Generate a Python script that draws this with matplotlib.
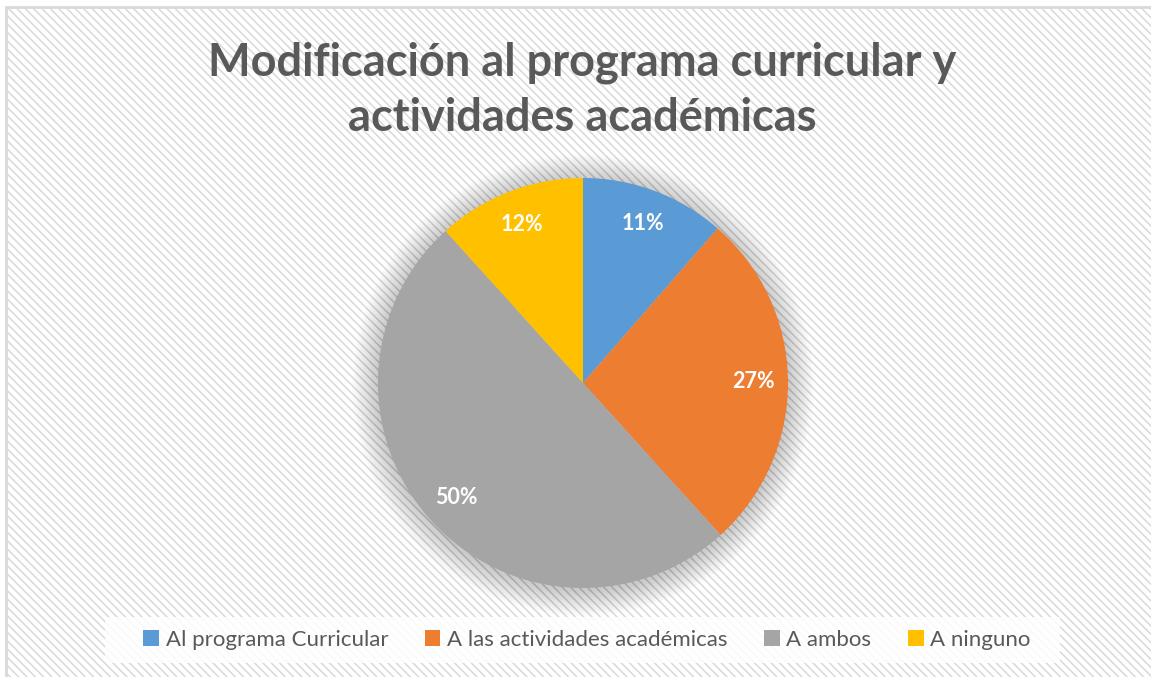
import numpy as np
import matplotlib.pyplot as plt
from matplotlib.patches import Rectangle, Circle

categorias = ["Al programa Curricular", "A las actividades académicas", "A ambos", "A ninguno"]
porcentajes = [11.4, 26.9, 50.0, 11.7]
colores = ["#5B9BD5", "#ED7D31", "#A5A5A5", "#FFC000"]
titulo = "Modificación al programa curricular y\nactividades académicas"

W, H = 1151, 677
plt.rcParams['font.family'] = ['Lato', 'DejaVu Sans']
plt.rcParams['hatch.color'] = '#f4f4f4'
plt.rcParams['hatch.linewidth'] = 1.1

fig = plt.figure(figsize=(W / 100, H / 100), dpi=100)
fig.patch.set_facecolor('white')
ax = fig.add_axes([0, 0, 1, 1])

# fondo rayado y marco
ax.add_patch(Rectangle((6, -10), W + 10, H - 7 + 10, facecolor='white',
                       edgecolor='#d9d9d9', linewidth=2, hatch='\\\\\\\\', zorder=0))

# caja de la leyenda
ax.add_patch(Rectangle((105, H - 663), 955, 46, facecolor='white', alpha=0.85,
                       edgecolor='none', zorder=1))

cx, cy, r = 583, H - 383, 205

# sombra difusa
for i in range(26):
    ax.add_patch(Circle((cx, cy - 2), r + 26 - i, facecolor='#000000',
                        alpha=0.0075, edgecolor='none', zorder=1))

wedges, texts, autotexts = ax.pie(
    porcentajes, colors=colores, startangle=90, counterclock=False,
    center=(cx, cy), radius=r, autopct=lambda p: f"{p:.0f}%",
    pctdistance=0.83, textprops=dict(color='white', fontsize=15.5, fontweight='bold'),
    wedgeprops=dict(linewidth=0, zorder=2), frame=True)
ax.set_xlim(0, W)
ax.set_ylim(0, H)
ax.set_aspect('equal')
ax.axis('off')
for t in autotexts:
    t.set_zorder(3)

fig.text(0.506, 1 - 90 / H, titulo, ha='center', va='center', fontsize=32.5,
         fontweight='bold', color='#595959', linespacing=1.38)

leg = fig.legend(wedges, categorias, loc='center', bbox_to_anchor=(587 / W, 1 - 640 / H),
                 ncol=4, frameon=False, fontsize=16, handlelength=0.7, handleheight=0.7,
                 handletextpad=0.3, columnspacing=1.65, borderaxespad=0,
                 labelcolor='#595959')

fig.savefig("out.png", dpi=100)
